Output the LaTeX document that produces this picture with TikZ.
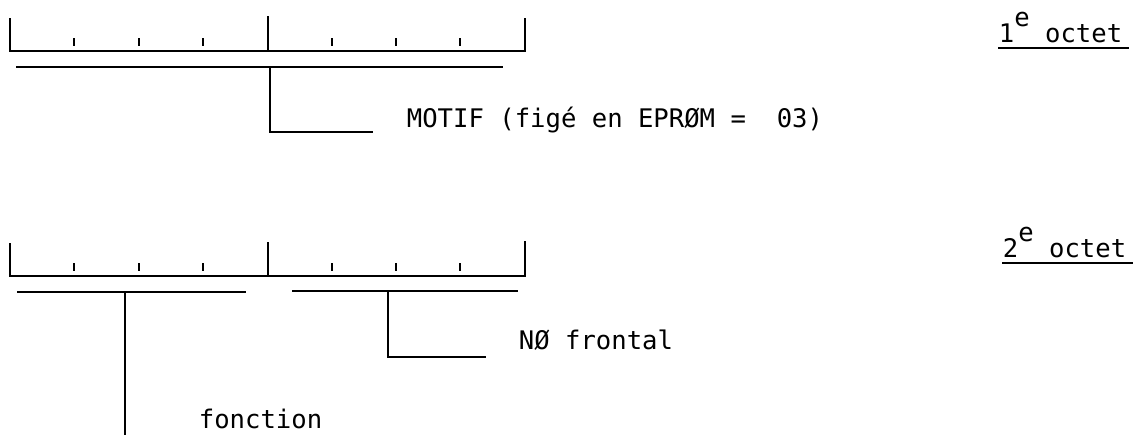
\documentclass[tikz,border=0pt]{standalone}
\usepackage{fontspec}
\setmonofont{DejaVu Sans Mono}
\begin{document}
\begin{tikzpicture}[x=0.5pt,y=-0.5pt,line width=0.9pt,
  lbl/.style={font=\ttfamily\fontsize{12.8}{15}\selectfont,inner sep=0pt,anchor=base west}]

\useasboundingbox (0,0) rectangle (1135,435);

% 1e octet
\draw
(10,18)
--
(10,51)
--
(525,51)
--
(525,18);
\draw (268,16) -- (268,51);
\draw (74,38) -- (74,46);
\draw (139,38) -- (139,46);
\draw (203,38) -- (203,46);
\draw (332,38) -- (332,46);
\draw (396,38) -- (396,46);
\draw (460,38) -- (460,46);

\node[lbl] (oct1) at (998,42) {1\raisebox{0.62em}{e} octet};
\draw ([yshift=-3pt]oct1.base west) -- ([yshift=-3pt,xshift=3pt]oct1.base east);

% motif
\coordinate (b1l) at (16,67);
\coordinate (b1r) at (503,67);
\coordinate (b1m) at (270,67);
\coordinate (b1e) at (373,132);
\draw (b1l) -- (b1r);
\draw (b1m) |- (b1e);
\node[lbl] (motif) at (406,127) {MOTIF (figé en EPRØM = \ 03)};

% 2e octet
\begin{scope}[shift={(0,225)}]

\draw
(10,18)
--
(10,51)
--
(525,51)
--
(525,16);
\draw (268,17) -- (268,51);
\draw (74,38) -- (74,46);
\draw (139,38) -- (139,46);
\draw (203,38) -- (203,46);
\draw (332,38) -- (332,46);
\draw (396,38) -- (396,46);
\draw (460,38) -- (460,46);

\end{scope}

\node[lbl] (oct2) at (1002,257) {2\raisebox{0.62em}{e} octet};
\draw ([yshift=-3pt]oct2.base west) -- ([yshift=-3pt,xshift=3pt]oct2.base east);

% fonction
\coordinate (b2l) at (17,292);
\coordinate (b2r) at (246,292);
\coordinate (b2m) at (125,292);
\coordinate (b2e) at (125,435);
\draw (b2l) -- (b2r);
\draw (b2m) -- (b2e);
\node[lbl] (fonct) at (198,428) {fonction};

% NØ frontal
\coordinate (b3l) at (292,291);
\coordinate (b3r) at (518,291);
\coordinate (b3m) at (388,291);
\coordinate (b3e) at (486,357);
\draw (b3l) -- (b3r);
\draw (b3m) |- (b3e);
\node[lbl] (front) at (518,349) {NØ frontal};

\end{tikzpicture}
\end{document}
